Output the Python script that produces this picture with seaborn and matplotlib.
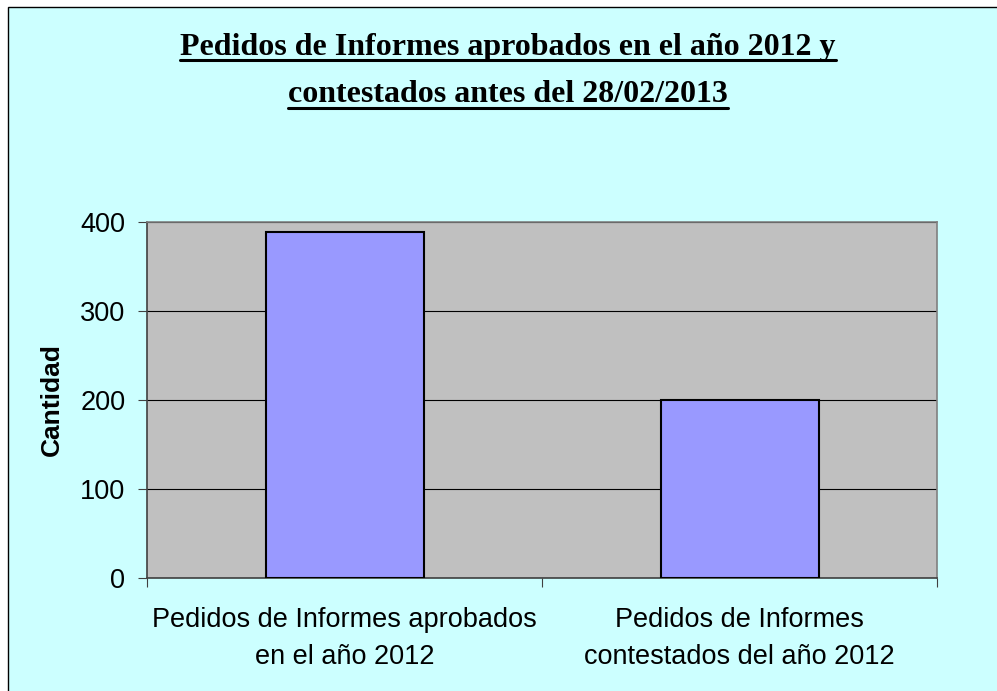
import matplotlib
matplotlib.use("Agg")
import matplotlib.pyplot as plt
import seaborn as sns
import pandas as pd
from matplotlib.lines import Line2D
from matplotlib.patches import Rectangle

categories = ["Pedidos de Informes aprobados\nen el año 2012",
              "Pedidos de Informes\ncontestados del año 2012"]
values = [389, 200]
title_lines = ["Pedidos de Informes aprobados en el año 2012 y",
               "contestados antes del 28/02/2013"]
y_ticks = [0, 100, 200, 300, 400]
y_label = "Cantidad"

sns.set_theme(style="white")
plt.rcParams['font.family'] = ['Liberation Sans', 'DejaVu Sans']
plt.rcParams['text.color'] = 'black'
plt.rcParams['axes.labelcolor'] = 'black'
plt.rcParams['xtick.color'] = 'black'
plt.rcParams['ytick.color'] = 'black'

W, H = 997, 691
fig = plt.figure(figsize=(W / 100, H / 100), dpi=100)
fig.patch.set_facecolor("white")
# chart area background with border
fig.add_artist(Rectangle((8 / W, -0.01), 1.0, 1 - 7 / H + 0.01, transform=fig.transFigure,
                         facecolor="#CCFFFF", edgecolor="black", linewidth=1.0, zorder=-10))

ax = fig.add_axes([147 / W, (H - 578) / H, (937 - 147) / W, (578 - 222) / H])
ax.set_facecolor("#C0C0C0")

df = pd.DataFrame({"cat": categories, "val": values})
sns.barplot(data=df, x="cat", y="val", color="#9999FF", edgecolor="black",
            linewidth=1.5, width=0.4, saturation=1, ax=ax, zorder=3)

ax.set_ylim(0, 400)
ax.set_xlim(-0.5, 1.5)
ax.set_yticks(y_ticks)
ax.yaxis.grid(True, color="black", linewidth=0.8, zorder=1)
ax.set_axisbelow(True)

ax.tick_params(axis="y", which="major", length=6.5, width=0.8, color="#404040",
               labelsize=19.5, pad=9, left=True, labelcolor="black")
ax.set_xticks([0, 1])
ax.set_xticklabels(categories, fontsize=19.5, linespacing=1.55)
ax.tick_params(axis="x", which="major", length=0, pad=21, labelcolor="black")
ax.set_xticks([-0.5, 0.5, 1.5], minor=True)
ax.tick_params(axis="x", which="minor", length=6.5, width=0.8, color="#404040", bottom=True)

ax.set_xlabel("")
ax.set_ylabel(y_label, fontsize=19, fontweight="bold", color="black")
ax.yaxis.set_label_coords((64 - 147) / (937 - 147), 0.5)

for side in ["top", "right"]:
    ax.spines[side].set_color("#808080")
    ax.spines[side].set_linewidth(1.2)
for side in ["left", "bottom"]:
    ax.spines[side].set_color("#404040")
    ax.spines[side].set_linewidth(1.2)
    ax.spines[side].set_visible(True)

# Title with underline
fig.canvas.draw()
renderer = fig.canvas.get_renderer()
ys = [47, 95]
for line, yc in zip(title_lines, ys):
    t = fig.text(508 / W, 1 - yc / H, line, ha="center", va="center", color="black",
                 fontsize=23, fontweight="bold", family=["Liberation Serif", "DejaVu Serif"])
    bb = t.get_window_extent(renderer=renderer)
    y_ul = bb.y0 + 2
    fig.add_artist(Line2D([bb.x0 / W, bb.x1 / W], [y_ul / H, y_ul / H],
                          transform=fig.transFigure, color="black", linewidth=2.2))

fig.savefig("out.png", dpi=100, facecolor=fig.get_facecolor())
